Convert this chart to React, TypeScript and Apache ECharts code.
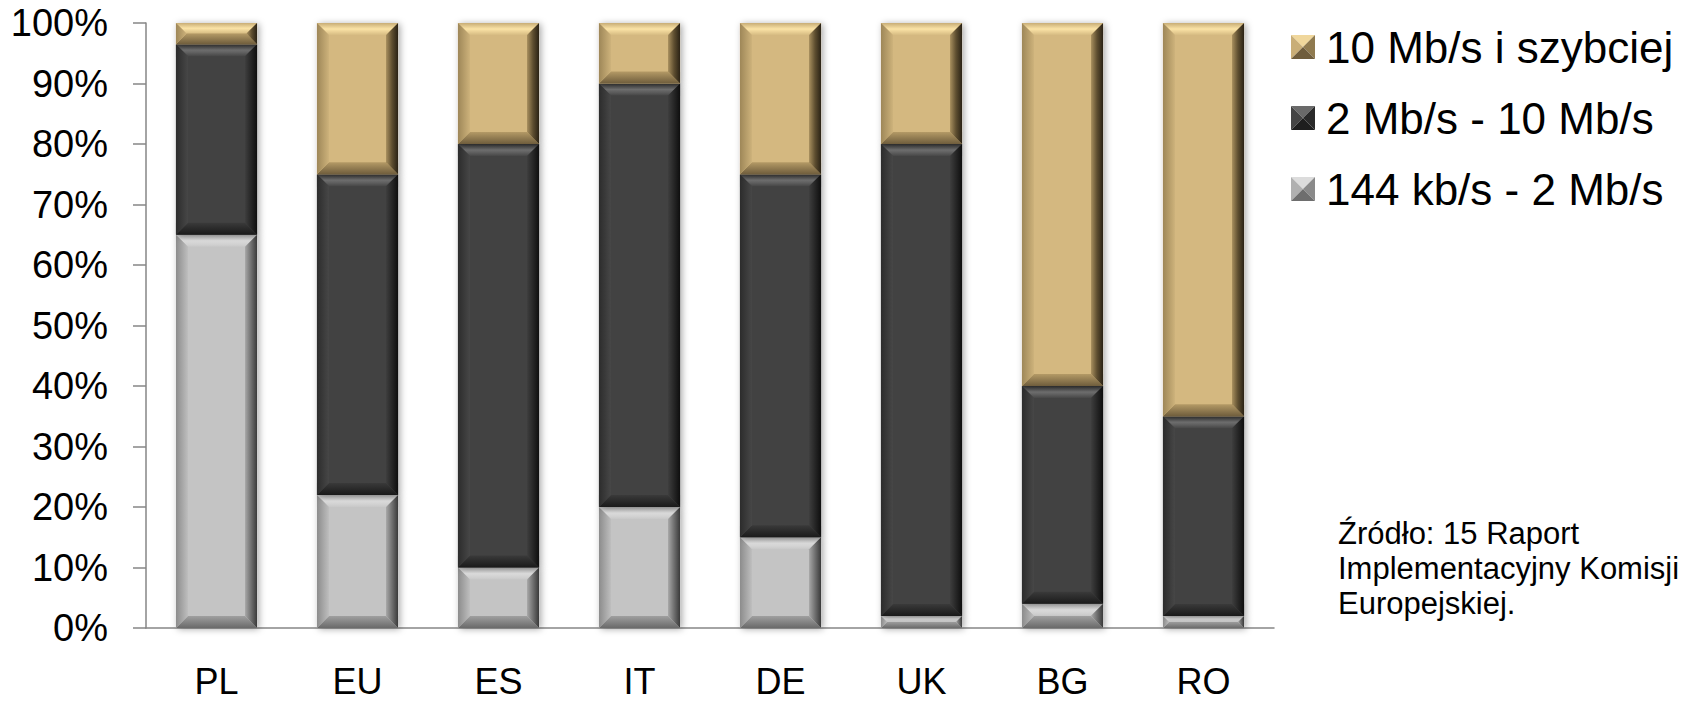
import React, { useEffect, useRef } from "react";
import * as echarts from "echarts";

const categories = ["PL", "EU", "ES", "IT", "DE", "UK", "BG", "RO"];
const seriesNames = ["144 kb/s - 2 Mb/s", "2 Mb/s - 10 Mb/s", "10 Mb/s i szybciej"];
const slowValues = [65, 22, 10, 20, 15, 2, 4, 2];
const midValues = [31.5, 53, 70, 70, 60, 78, 36, 33];
const fastValues = [3.5, 25, 20, 10, 25, 20, 60, 65];
const yTickValues = [0, 10, 20, 30, 40, 50, 60, 70, 80, 90, 100];
const sourceLines = ["Źródło: 15 Raport", "Implementacyjny Komisji", "Europejskiej."];

type Pal = {
  base: string;
  top: string[];
  left: string[];
  right: string[];
  bottom: string[];
  icon: string[];
};

const palettes: Pal[] = [
  {
    base: "#C4C4C4",
    top: ["#B8B8B8", "#DEDEDE", "#C8C8C8"],
    left: ["#8C8C8C", "#BEBEBE"],
    right: ["#A8A8A8", "#707070", "#3A3A3A"],
    bottom: ["#A0A0A0", "#6A6A6A"],
    icon: ["#DCDCDC", "#B0B0B0", "#8A8A8A", "#6E6E6E"],
  },
  {
    base: "#424242",
    top: ["#363636", "#707070", "#474747"],
    left: ["#2C2C2C", "#474747"],
    right: ["#3E3E3E", "#262626", "#0E0E0E"],
    bottom: ["#3A3A3A", "#1A1A1A"],
    icon: ["#6A6A6A", "#444444", "#2A2A2A", "#1E1E1E"],
  },
  {
    base: "#D4B880",
    top: ["#C8AD76", "#FBE3A6", "#D6BB82"],
    left: ["#9E8758", "#CDB27B"],
    right: ["#A88F5E", "#5E4E30", "#2A2215"],
    bottom: ["#B49A66", "#6F5D3C"],
    icon: ["#F0D79C", "#C9AE77", "#8F7A4F", "#6F5D3C"],
  },
];

const valueLists = [slowValues, midValues, fastValues];

function pyramidIcon(c: string[]) {
  const svg =
    '<svg xmlns="http://www.w3.org/2000/svg" width="24" height="24">' +
    `<polygon points="0,0 24,0 12,12" fill="${c[0]}"/>` +
    `<polygon points="0,0 12,12 0,24" fill="${c[1]}"/>` +
    `<polygon points="24,0 24,24 12,12" fill="${c[2]}"/>` +
    `<polygon points="0,24 12,12 24,24" fill="${c[3]}"/>` +
    "</svg>";
  return "image://data:image/svg+xml;charset=utf-8," + encodeURIComponent(svg);
}

function lg(vertical: boolean, colors: string[]) {
  const n = colors.length;
  return new echarts.graphic.LinearGradient(
    0,
    0,
    vertical ? 0 : 1,
    vertical ? 1 : 0,
    colors.map((c, i) => ({ offset: n === 1 ? 0 : i / (n - 1), color: c }))
  );
}

function makeRender(pal: Pal) {
  return (params: any, api: any) => {
    const cat = api.value(0);
    const s = api.value(1);
    const e = api.value(2);
    const pTop = api.coord([cat, e]);
    const pBot = api.coord([cat, s]);
    const w = api.size([1, 0])[0] * 0.575;
    const x0 = pTop[0] - w / 2;
    const x1 = pTop[0] + w / 2;
    const y0 = pTop[1];
    const y1 = pBot[1];
    const h = y1 - y0;
    const b = Math.max(0, Math.min(12, h / 2, w / 2));
    return {
      type: "group",
      children: [
        {
          type: "rect",
          shape: { x: x0, y: y0, width: w, height: h },
          style: {
            fill: pal.base,
            shadowBlur: 7,
            shadowColor: "rgba(0,0,0,0.35)",
            shadowOffsetX: 2,
            shadowOffsetY: 1,
          },
        },
        {
          type: "polygon",
          shape: { points: [[x0, y0], [x1, y0], [x1 - b, y0 + b], [x0 + b, y0 + b]] },
          style: { fill: lg(true, pal.top) },
        },
        {
          type: "polygon",
          shape: { points: [[x0, y1], [x1, y1], [x1 - b, y1 - b], [x0 + b, y1 - b]] },
          style: { fill: lg(true, pal.bottom) },
        },
        {
          type: "polygon",
          shape: { points: [[x0, y0], [x0 + b, y0 + b], [x0 + b, y1 - b], [x0, y1]] },
          style: { fill: lg(false, pal.left) },
        },
        {
          type: "polygon",
          shape: { points: [[x1, y0], [x1 - b, y0 + b], [x1 - b, y1 - b], [x1, y1]] },
          style: { fill: lg(false, pal.right) },
        },
      ],
    };
  };
}

export default function App() {
  const ref = useRef<HTMLDivElement>(null);

  useEffect(() => {
    if (!ref.current) return;
    const chart = echarts.init(ref.current, null, { renderer: "svg" });

    const cumulative = categories.map(() => 0);
    const series = valueLists.map((vals, si) => {
      const data = vals.map((v, i) => {
        const start = cumulative[i];
        const end = start + v;
        cumulative[i] = end;
        return [i, start, end];
      });
      return {
        type: "custom",
        name: seriesNames[si],
        renderItem: makeRender(palettes[si]),
        encode: { x: 0, y: [1, 2] },
        itemStyle: { color: palettes[si].base },
        data,
      };
    });

    chart.setOption({
      animation: false,
      grid: { left: 146, right: 423, top: 23, bottom: 75 },
      legend: {
        orient: "vertical",
        left: 1286,
        top: 20,
        itemWidth: 24,
        itemHeight: 24,
        itemGap: 27,
        selectedMode: false,
        data: [2, 1, 0].map((i) => ({ name: seriesNames[i], icon: pyramidIcon(palettes[i].icon) })),
        textStyle: {
          fontFamily: "Arial, 'Liberation Sans', sans-serif",
          fontSize: 44,
          lineHeight: 44,
          color: "#000",
          padding: [0, 0, 0, 6],
        },
      },
      xAxis: {
        type: "category",
        data: categories,
        axisLine: { lineStyle: { color: "#868686", width: 1.5 } },
        axisTick: { length: 12, lineStyle: { color: "#868686", width: 1.5 } },
        axisLabel: {
          fontFamily: "Arial, 'Liberation Sans', sans-serif",
          fontSize: 36,
          lineHeight: 30,
          color: "#000",
          margin: 38,
        },
      },
      yAxis: {
        type: "value",
        min: yTickValues[0],
        max: yTickValues[yTickValues.length - 1],
        interval: yTickValues[1] - yTickValues[0],
        axisLine: { show: true, lineStyle: { color: "#868686", width: 1.5 } },
        axisTick: { show: true, length: 13, lineStyle: { color: "#868686", width: 1.5 } },
        splitLine: { show: false },
        axisLabel: {
          formatter: "{value}%",
          fontFamily: "Arial, 'Liberation Sans', sans-serif",
          fontSize: 38,
          color: "#000",
          margin: 38,
        },
      },
      graphic: [
        {
          type: "text",
          left: 1338,
          top: 516,
          style: {
            text: sourceLines.join("\n"),
            fontFamily: "Arial, 'Liberation Sans', sans-serif",
            fontSize: 31,
            lineHeight: 35,
            fill: "#000",
          },
        },
      ],
      series,
    });

    return () => chart.dispose();
  }, []);

  return (
    <div
      ref={ref}
      style={{ position: "absolute", left: 0, top: 0, width: 1697, height: 703, background: "#fff" }}
    />
  );
}
